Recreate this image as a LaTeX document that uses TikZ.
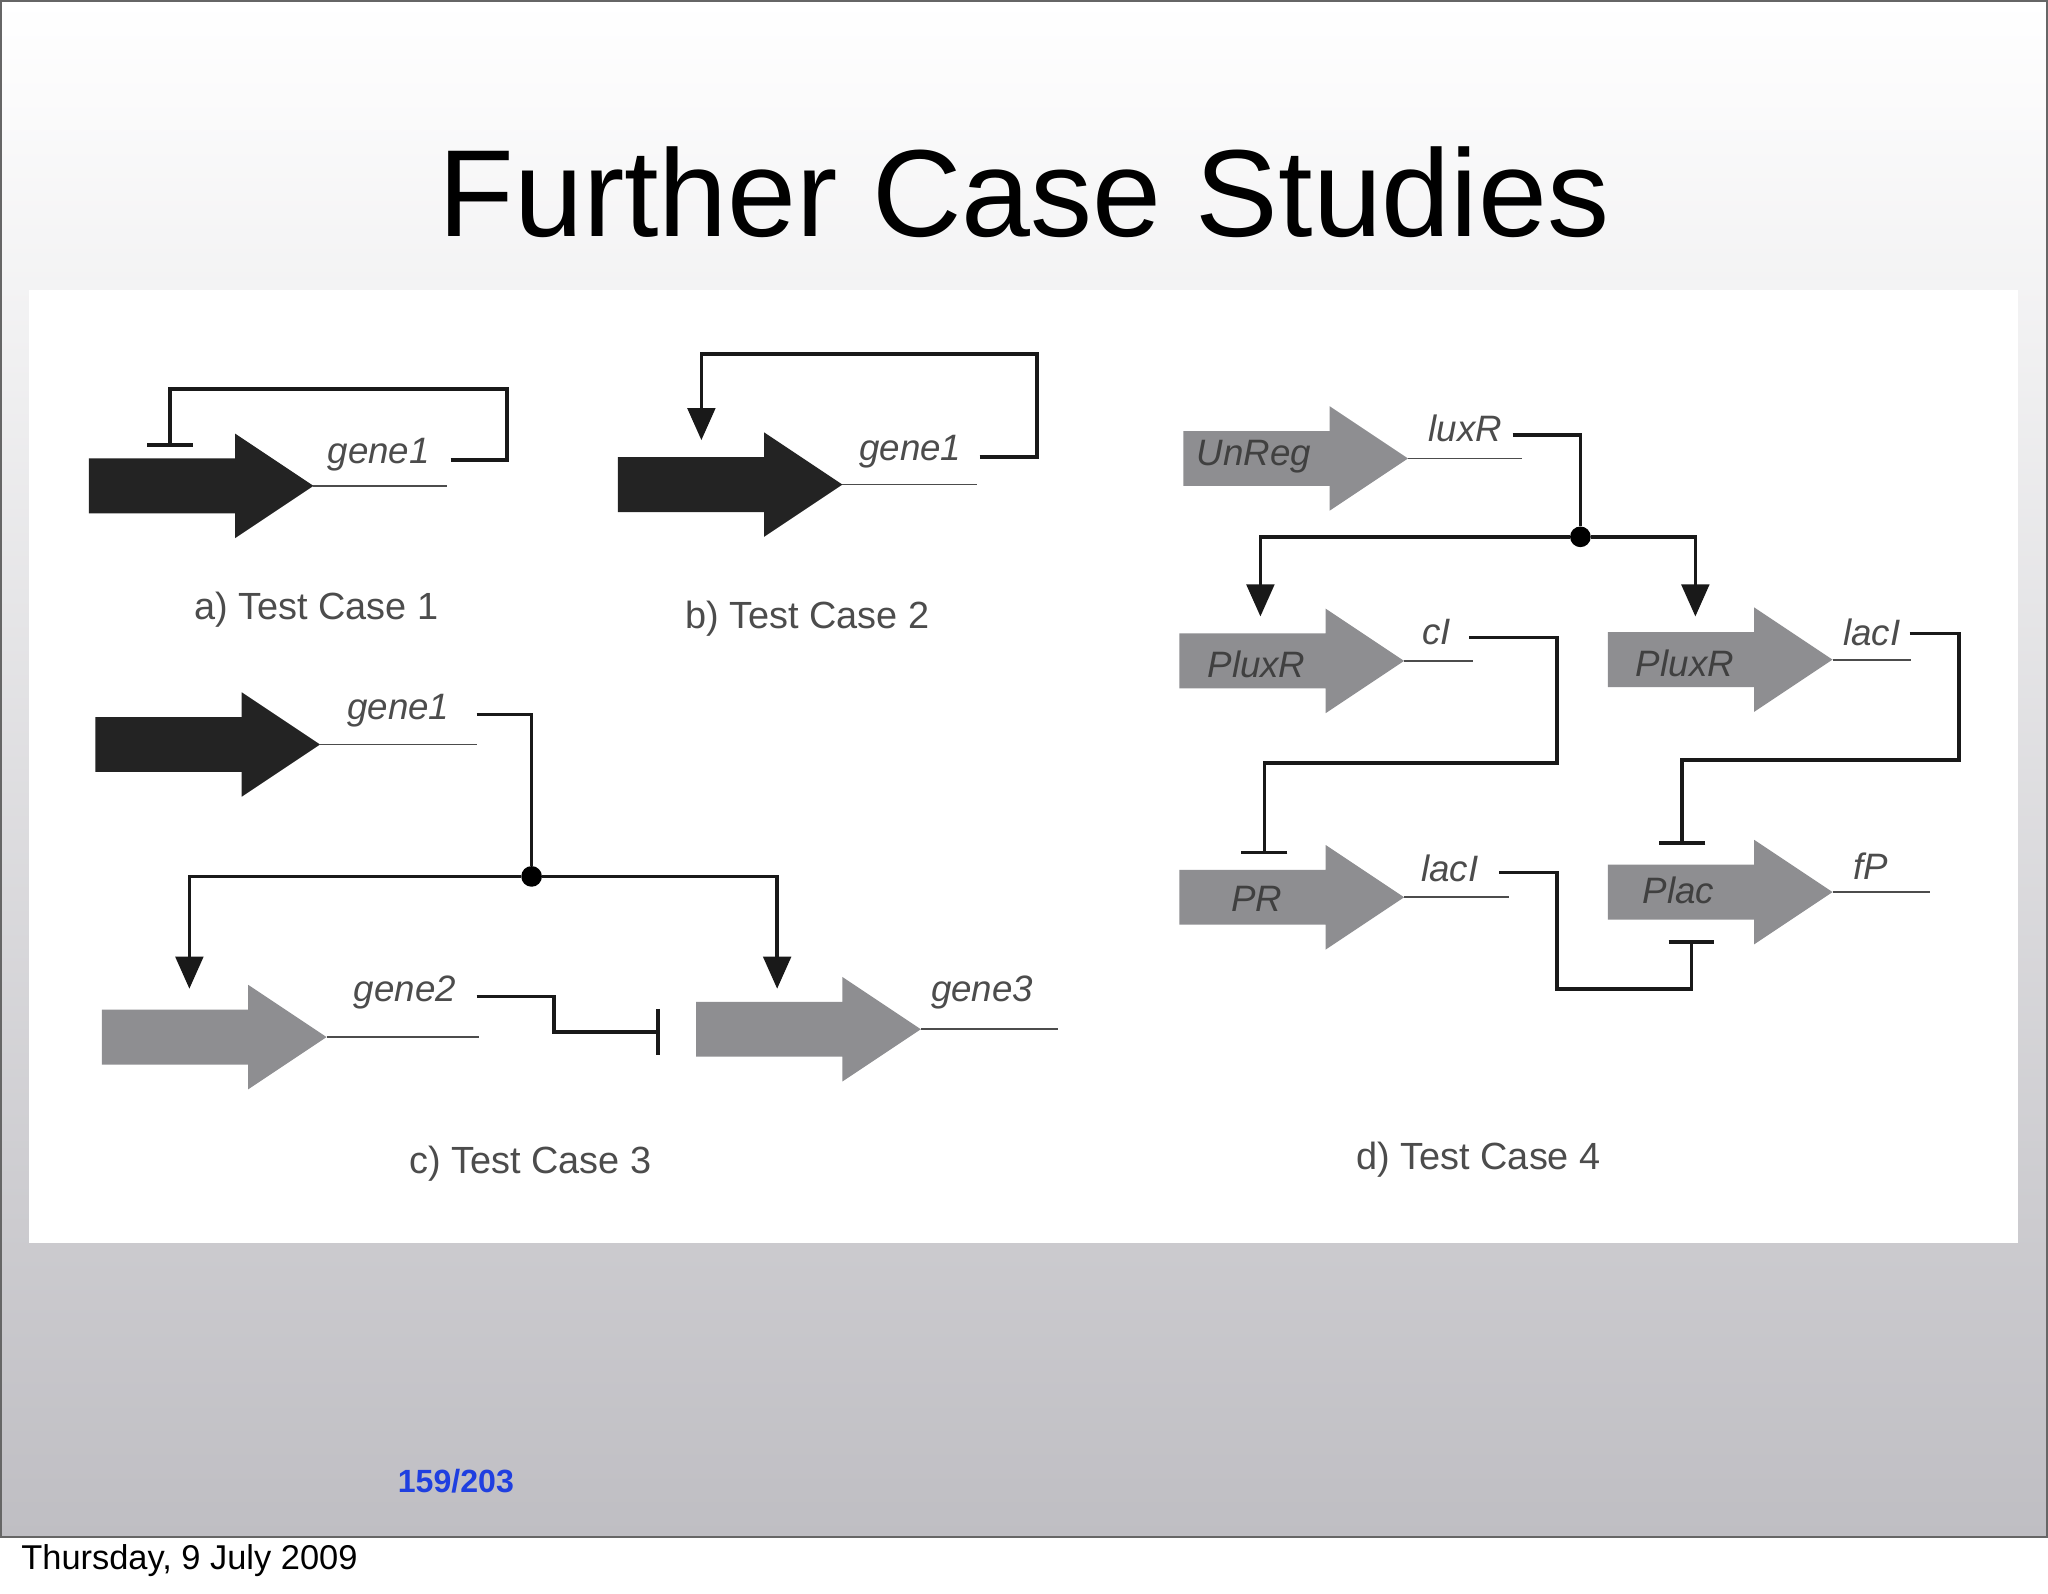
\documentclass[tikz,border=0pt]{standalone}
\usepackage{fontspec}
\setmainfont{Liberation Sans}
\usetikzlibrary{arrows.meta}
\definecolor{pg}{HTML}{8E8E91}
\definecolor{pd}{HTML}{232323}
\definecolor{bgb}{HTML}{BFBEC3}
\definecolor{pnum}{HTML}{1F3FE0}
\tikzset{
 wire/.style={line width=1.6pt,draw=black!90},
 act/.style={wire,-{Triangle[length=14pt,width=12pt]}},
 inh/.style={wire,-{Bar[width=20pt,line width=1.6pt]}},
 gl/.style={line width=0.8pt,draw=black!70},
 lab/.style={font=\fontsize{16}{16}\selectfont\itshape,text=black!70},
 inl/.style={font=\fontsize{16}{16}\selectfont\itshape,text=black!75},
 capt/.style={font=\fontsize{16.5}{16.5}\selectfont,text=black!70},
 dot/.style={circle,fill=black,inner sep=0pt,minimum size=9pt}
}
% promoter: name, tip x, tip y, fill, line end x
\newcommand\prom[5]{%
 \fill[#4] (#2-172,#3-21) -- (#2-60,#3-21) -- (#2-60,#3-40) -- (#2,#3) -- (#2-60,#3+40) -- (#2-60,#3+21) -- (#2-172,#3+21) -- cycle;
 \coordinate (#1) at (#2,#3);
 \coordinate (#1e) at (#5,#3);
 \draw[gl] (#1) -- (#1e);}
\begin{document}
\begin{tikzpicture}[x=0.02cm,y=-0.02cm]
\useasboundingbox (0,0) rectangle (1568,1220);
\fill[white] (0,0) rectangle (1568,1220);
\shade[top color=white,bottom color=bgb] (0,0) rectangle (1568,1177);
\draw[black!60,line width=0.8pt] (0.5,0.5) rectangle (1567.5,1177);
\fill[white] (22,222) rectangle (1545,952);
\node[font=\fontsize{54}{54}\selectfont] (title) at (784,147) {Further Case Studies};
\node[font=\fontsize{14}{14}\selectfont\bfseries,text=pnum] (pn) at (349,1134) {159/203};
\node[font=\fontsize{15}{15}\selectfont,anchor=west,inner sep=0pt] (date) at (16,1195) {Thursday, 9 July 2009};
% a
\prom{a}{240}{372}{pd}{342}
\node[lab] (ag) at (290,348) {gene1};
\coordinate (a1) at (345,352);
\draw[inh] (a1) -| (388,298) -| (130,342);
\node[capt] (ca) at (242,467) {a) Test Case 1};
% b
\prom{b}{645}{371}{pd}{748}
\node[lab] (bg) at (697,346) {gene1};
\coordinate (b1) at (750,350);
\draw[act] (b1) -| (794,271) -| (537,337);
\node[capt] (cb) at (618,474) {b) Test Case 2};
% c
\prom{c1}{245}{570}{pd}{365}
\node[lab] (c1g) at (305,544) {gene1};
\prom{c2}{250}{794}{pg}{367}
\node[lab] (c2g) at (310,760) {gene2};
\prom{c3}{705}{788}{pg}{810}
\node[lab] (c3g) at (752,760) {gene3};
\node[dot] (cd) at (407,671) {};
\coordinate (c1o) at (365,547);
\draw[wire] (c1o) -| (cd);
\draw[act] (cd) -| (145,757);
\draw[act] (cd) -| (595,757);
\coordinate (c2o) at (365,763);
\coordinate (c2t) at (505,790);
\draw[inh] (c2o) -| (424,790) -- (c2t);
\node[capt] (cc) at (406,891) {c) Test Case 3};
% d
\prom{u}{1078}{351}{pg}{1165}
\node[inl] at (960,350) {UnReg};
\node[lab] (ul) at (1122,328) {luxR};
\prom{p1}{1075}{506}{pg}{1128}
\node[inl] at (962,509) {PluxR};
\node[lab] (p1l) at (1100,484) {cI};
\prom{p2}{1403}{505}{pg}{1463}
\node[inl] at (1290,508) {PluxR};
\node[lab] (p2l) at (1433,484) {lacI};
\prom{pr}{1075}{687}{pg}{1155}
\node[inl] at (962,688) {PR};
\node[lab] (prl) at (1110,665) {lacI};
\prom{pl}{1403}{683}{pg}{1478}
\node[inl] at (1285,682) {Plac};
\node[lab] (pll) at (1432,663) {fP};
\node[dot] (dd) at (1210,411) {};
\coordinate (uo) at (1158,333);
\draw[wire] (uo) -| (dd);
\draw[act] (dd) -| (965,472);
\draw[act] (dd) -| (1298,472);
\coordinate (p1o) at (1125,488);
\draw[inh] (p1o) -| (1192,584) -| (968,654);
\coordinate (p2o) at (1462,485);
\draw[inh] (p2o) -| (1500,582) -| (1288,647);
\coordinate (pro) at (1148,668);
\draw[inh] (pro) -| (1192,757) -| (1295,720);
\node[capt] (cd4) at (1132,888) {d) Test Case 4};
\end{tikzpicture}
\end{document}
